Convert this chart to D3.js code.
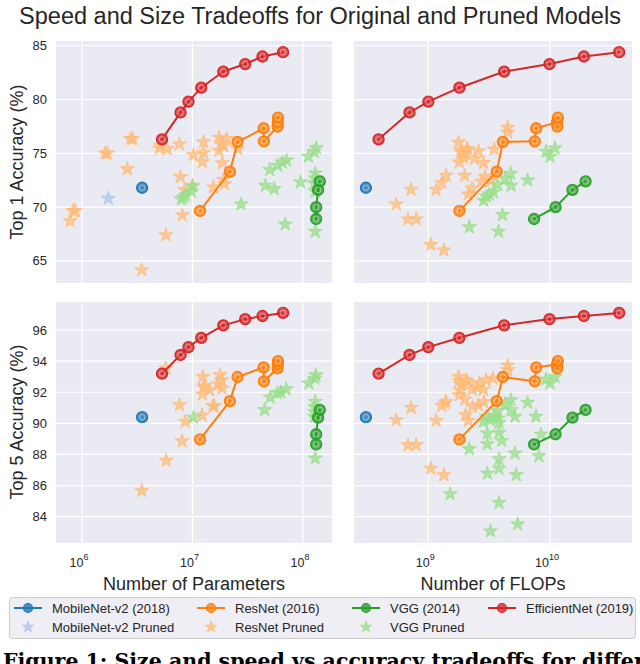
<!DOCTYPE html>
<html>
<head>
<meta charset="utf-8">
<script src="https://cdnjs.cloudflare.com/ajax/libs/d3/7.8.5/d3.min.js"></script>
<style>
  body { margin: 0; background: #fff; }
  text { font-family: "Liberation Sans", Arial, sans-serif; fill: #262626; }
  text.caption { font-family: "DejaVu Serif", serif; font-weight: bold; fill: #000; }
</style>
</head>
<body>
<svg id="chart" width="640" height="664"></svg>
<script>
// original models, one value per model
var effParams = [5.3e6, 7.8e6, 9.2e6, 12e6, 19e6, 30e6, 43e6, 66e6]
var effFlops = [0.39e9, 0.70e9, 1.0e9, 1.8e9, 4.2e9, 9.9e9, 19e9, 37e9]
var effTop1 = [76.3, 78.8, 79.8, 81.1, 82.6, 83.3, 84.0, 84.4]
var effTop5 = [93.2, 94.4, 94.9, 95.5, 96.3, 96.7, 96.9, 97.1]

var resnetParams = [11.7e6, 21.8e6, 25.6e6, 44.0e6, 44.3e6, 59.0e6, 59.2e6, 59.4e6]
var resnetFlops = [1.8e9, 3.65e9, 4.1e9, 7.7e9, 7.5e9, 11.5e9, 11.4e9, 11.6e9]
var resnetTop1 = [69.65, 73.3, 76.06, 77.33, 76.12, 77.49, 77.88, 78.32]
var resnetTop5 = [88.97, 91.43, 92.98, 93.6, 92.7, 93.54, 93.79, 94.0]

var vggParams = [131.5e6, 131.6e6, 137e6, 142e6]
var vggFlops = [7.4e9, 11.1e9, 15.3e9, 19.6e9]
var vggTop1 = [68.9, 70.0, 71.6, 72.4]
var vggTop5 = [88.65, 89.3, 90.37, 90.87]

var mobileParams = [3.5e6]
var mobileFlops = [0.307e9]
var mobileTop1 = [71.8]
var mobileTop5 = [90.4]

// pruned models, [x, accuracy] per panel
var mobilePrunedParamsTop1 = [[1.73e6, 70.8]]

var resnetPrunedParamsTop1 = [[7.8e5, 68.7], [8.3e5, 69.65], [8.7e5, 69.65], [1.62e6, 75.0], [1.70e6, 75.0],
  [2.57e6, 73.55], [2.75e6, 76.35], [2.88e6, 76.35], [3.47e6, 64.15], [5.1e6, 75.7], [5.0e6, 75.45],
  [5.9e6, 75.4], [5.75e6, 67.4], [7.6e6, 75.85], [7.76e6, 72.8], [8.5e6, 71.6], [8.1e6, 69.25],
  [1.0e7, 72.0], [1.02e7, 74.85], [1.26e7, 76.05], [1.26e7, 75.05], [1.23e7, 74.2], [1.55e7, 71.85],
  [1.74e7, 76.45], [2.04e7, 76.35], [1.82e7, 75.95], [1.73e7, 75.25], [1.86e7, 74.1], [1.95e7, 72.15],
  [1.91e7, 72.55], [2.57e7, 75.4], [1.91e7, 75.7]]

var vggPrunedParamsTop1 = [[7.9e6, 70.73], [8.3e6, 70.89], [8.7e6, 71.11], [9.8e6, 71.45], [1.0e7, 71.92],
  [2.75e7, 70.27], [4.57e7, 72.0], [5.5e7, 71.7], [5.0e7, 73.46], [5.9e7, 73.86], [6.5e7, 74.15],
  [7.1e7, 74.35], [6.9e7, 68.4], [9.5e7, 72.32], [1.12e8, 74.7], [1.26e8, 75.16], [1.32e8, 75.5],
  [1.29e8, 73.15], [1.29e8, 72.69], [1.27e8, 72.22], [1.29e8, 71.45], [1.29e8, 67.73]]

var resnetPrunedFlopsTop1 = [[5.46e8, 70.27], [7.2e8, 71.63], [6.8e8, 68.88], [7.96e8, 68.88], [1.05e9, 66.5],
  [1.34e9, 66.0], [1.16e9, 71.6], [1.29e9, 72.28], [1.4e9, 72.93], [1.77e9, 76.02], [2.07e9, 75.4],
  [1.85e9, 75.1], [2.0e9, 75.0], [1.79e9, 74.17], [1.94e9, 74.6], [2.1e9, 75.4], [1.88e9, 75.3],
  [1.95e9, 74.9], [2.39e9, 74.48], [2.59e9, 75.22], [2.85e9, 74.11], [3.48e9, 75.38], [4.49e9, 77.4],
  [4.49e9, 76.96], [1.99e9, 72.93], [2.29e9, 71.76], [2.13e9, 71.2], [2.74e9, 72.38], [2.92e9, 72.84],
  [3.27e9, 72.44]]

var vggPrunedFlopsTop1 = [[2.17e9, 68.14], [3.78e9, 67.73], [4.06e9, 69.28], [2.85e9, 70.61], [3.01e9, 70.98],
  [3.17e9, 71.2], [3.42e9, 71.39], [3.72e9, 72.07], [4.27e9, 72.63], [4.75e9, 73.12], [4.78e9, 72.0],
  [6.55e9, 72.5], [9.27e9, 75.16], [1.0e10, 74.69], [1.1e10, 75.47]]

var resnetPrunedParamsTop5 = [[3.48e6, 85.67], [5.78e6, 87.6], [5.74e6, 93.53], [7.62e6, 91.18], [8.59e6, 90.11],
  [8.05e6, 88.86], [1.22e7, 90.51], [1.24e7, 93.0], [1.26e7, 92.31], [1.28e7, 92.4], [1.23e7, 91.86],
  [1.43e7, 92.14], [1.53e7, 91.11], [1.57e7, 91.11], [1.77e7, 93.11], [1.84e7, 92.78], [1.71e7, 92.51],
  [1.85e7, 92.25]]

var vggPrunedParamsTop5 = [[1.02e7, 90.38], [4.5e7, 90.86], [5.05e7, 91.67], [5.87e7, 91.95], [6.3e7, 92.0],
  [7.05e7, 92.2], [1.13e8, 92.57], [1.28e8, 92.88], [1.31e8, 93.1], [1.29e8, 91.39], [1.28e8, 91.07],
  [1.27e8, 90.75], [1.27e8, 90.43], [1.29e8, 87.75]]

var resnetPrunedFlopsTop5 = [[5.46e8, 90.21], [7.2e8, 91.0], [6.8e8, 88.6], [7.96e8, 88.6], [1.05e9, 87.1],
  [1.34e9, 86.68], [1.16e9, 90.17], [1.29e9, 91.13], [1.4e9, 91.39], [1.77e9, 93.0], [1.79e9, 92.72],
  [1.88e9, 92.46], [1.82e9, 92.14], [2.04e9, 92.78], [2.1e9, 92.68], [1.79e9, 91.82], [2.0e9, 91.54],
  [2.3e9, 92.18], [2.5e9, 92.31], [2.62e9, 92.57], [2.83e9, 92.18], [2.98e9, 92.78], [3.4e9, 92.89],
  [2.03e9, 90.53], [2.13e9, 90.17], [2.31e9, 91.07], [2.58e9, 91.16], [2.86e9, 91.37], [4.49e9, 93.71],
  [4.49e9, 93.43], [1.37e9, 91.28]]

var vggPrunedFlopsTop5 = [[2.17e9, 88.35], [1.51e9, 85.45], [3.06e9, 86.78], [3.81e9, 87.1], [3.81e9, 87.7],
  [5.15e9, 88.07], [5.28e9, 86.68], [3.81e9, 84.9], [3.24e9, 83.07], [5.42e9, 83.52], [3.05e9, 88.67],
  [3.05e9, 89.35], [3.81e9, 89.4], [4.01e9, 88.88], [2.83e9, 90.1], [3.01e9, 90.43], [3.21e9, 90.21],
  [3.48e9, 90.49], [3.76e9, 90.32], [3.81e9, 90.04], [3.72e9, 90.79], [4.27e9, 91.22], [4.78e9, 91.5],
  [4.78e9, 90.86], [5.15e9, 90.43], [6.55e9, 91.33], [7.67e9, 90.43], [8.43e9, 89.29], [8.11e9, 87.9],
  [9.27e9, 92.83], [1.0e10, 92.57], [1.1e10, 93.0]]

// ticks
var paramTicks = [1e6, 1e7, 1e8]
var flopTicks = [1e9, 1e10]
var top1Ticks = [65, 70, 75, 80, 85]
var top5Ticks = [84, 86, 88, 90, 92, 94, 96]

var colors = {mobile: "#1f77b4", resnet: "#ff7f0e", vgg: "#2ca02c", eff: "#d62728"}
var lightColors = {mobile: "#aec7e8", resnet: "#ffbb78", vgg: "#98df8a"}

var svg = d3.select("#chart")

// scales (axis limits)
var xParams = d3.scaleLog().domain([5.82e5, 1.83e8]).range([56, 332])
var xFlops = d3.scaleLog().domain([2.45e8, 4.72e10]).range([354, 632])
var yTop1 = d3.scaleLinear().domain([62.95, 85.44]).range([283, 41])
var yTop5 = d3.scaleLinear().domain([82.31, 97.8]).range([543, 302])

var star = d3.symbol().type(d3.symbolStar).size(62)

// title
svg.append("text")
  .attr("x", 320)
  .attr("y", 24)
  .attr("text-anchor", "middle")
  .attr("font-size", 23.5)
  .text("Speed and Size Tradeoffs for Original and Pruned Models")

function drawPanel(id, x, y, xTicks, yTicks, showX, showY, models, pruned) {
  var x0 = x.range()[0], x1 = x.range()[1]
  var y0 = y.range()[1], y1 = y.range()[0]

  var g = svg.append("g")

  g.append("rect")
    .attr("x", x0).attr("y", y0)
    .attr("width", x1 - x0).attr("height", y1 - y0)
    .attr("fill", "#eaeaf2")

  g.append("clipPath").attr("id", id)
    .append("rect")
    .attr("x", x0).attr("y", y0)
    .attr("width", x1 - x0).attr("height", y1 - y0)

  // grid
  g.selectAll(".gx").data(xTicks).enter().append("line")
    .attr("x1", function(d) { return x(d) }).attr("x2", function(d) { return x(d) })
    .attr("y1", y0).attr("y2", y1)
    .attr("stroke", "#fff").attr("stroke-width", 1.2)
  g.selectAll(".gy").data(yTicks).enter().append("line")
    .attr("y1", function(d) { return y(d) }).attr("y2", function(d) { return y(d) })
    .attr("x1", x0).attr("x2", x1)
    .attr("stroke", "#fff").attr("stroke-width", 1.2)

  if (showY) {
    g.selectAll(".ty").data(yTicks).enter().append("text")
      .attr("x", x0 - 9)
      .attr("y", function(d) { return y(d) })
      .attr("dy", "0.35em")
      .attr("text-anchor", "end")
      .attr("font-size", 13)
      .text(function(d) { return d })
  }
  if (showX) {
    var t = g.selectAll(".tx").data(xTicks).enter().append("text")
      .attr("x", function(d) { return x(d) - 3 })
      .attr("y", y1 + 24)
      .attr("text-anchor", "middle")
      .attr("font-size", 12.5)
    t.append("tspan").text("10")
    t.append("tspan")
      .attr("dy", -7)
      .attr("font-size", 9)
      .text(function(d) { return Math.round(Math.log10(d)) })
  }

  var plot = g.append("g").attr("clip-path", "url(#" + id + ")")

  // pruned stars below the lines
  pruned.forEach(function(p) {
    plot.selectAll(null).data(p.values).enter().append("path")
      .attr("d", star)
      .attr("transform", function(d) { return "translate(" + x(d[0]) + "," + y(d[1]) + ")" })
      .attr("fill", p.color)
      .attr("fill-opacity", 0.75)
      .attr("stroke", p.color)
      .attr("stroke-width", 0.8)
  })

  models.forEach(function(m) {
    var pts = m.xs.map(function(v, i) { return [v, m.ys[i]] })
    pts.sort(function(a, b) { return a[0] - b[0] })

    plot.append("path")
      .datum(pts)
      .attr("fill", "none")
      .attr("stroke", m.color)
      .attr("stroke-width", 2)
      .attr("d", d3.line().x(function(d) { return x(d[0]) }).y(function(d) { return y(d[1]) }))

    var dots = plot.selectAll(null).data(pts).enter().append("g")
      .attr("transform", function(d) { return "translate(" + x(d[0]) + "," + y(d[1]) + ")" })
    dots.append("circle")
      .attr("r", 5.5)
      .attr("fill", m.color)
      .attr("fill-opacity", 0.8)
      .attr("stroke", m.color)
      .attr("stroke-width", 1.3)
    dots.append("circle")
      .attr("r", 2.8)
      .attr("fill", "none")
      .attr("stroke", "#fff")
      .attr("stroke-opacity", 0.55)
      .attr("stroke-width", 0.8)
  })
}

// top left: params vs top1
drawPanel("c1", xParams, yTop1, paramTicks, top1Ticks, false, true,
  [{xs: mobileParams, ys: mobileTop1, color: colors.mobile},
   {xs: resnetParams, ys: resnetTop1, color: colors.resnet},
   {xs: vggParams, ys: vggTop1, color: colors.vgg},
   {xs: effParams, ys: effTop1, color: colors.eff}],
  [{values: mobilePrunedParamsTop1, color: lightColors.mobile},
   {values: resnetPrunedParamsTop1, color: lightColors.resnet},
   {values: vggPrunedParamsTop1, color: lightColors.vgg}])

// top right: flops vs top1
drawPanel("c2", xFlops, yTop1, flopTicks, top1Ticks, false, false,
  [{xs: mobileFlops, ys: mobileTop1, color: colors.mobile},
   {xs: resnetFlops, ys: resnetTop1, color: colors.resnet},
   {xs: vggFlops, ys: vggTop1, color: colors.vgg},
   {xs: effFlops, ys: effTop1, color: colors.eff}],
  [{values: resnetPrunedFlopsTop1, color: lightColors.resnet},
   {values: vggPrunedFlopsTop1, color: lightColors.vgg}])

// bottom left: params vs top5
drawPanel("c3", xParams, yTop5, paramTicks, top5Ticks, true, true,
  [{xs: mobileParams, ys: mobileTop5, color: colors.mobile},
   {xs: resnetParams, ys: resnetTop5, color: colors.resnet},
   {xs: vggParams, ys: vggTop5, color: colors.vgg},
   {xs: effParams, ys: effTop5, color: colors.eff}],
  [{values: resnetPrunedParamsTop5, color: lightColors.resnet},
   {values: vggPrunedParamsTop5, color: lightColors.vgg}])

// bottom right: flops vs top5
drawPanel("c4", xFlops, yTop5, flopTicks, top5Ticks, true, false,
  [{xs: mobileFlops, ys: mobileTop5, color: colors.mobile},
   {xs: resnetFlops, ys: resnetTop5, color: colors.resnet},
   {xs: vggFlops, ys: vggTop5, color: colors.vgg},
   {xs: effFlops, ys: effTop5, color: colors.eff}],
  [{values: resnetPrunedFlopsTop5, color: lightColors.resnet},
   {values: vggPrunedFlopsTop5, color: lightColors.vgg}])

// axis labels
svg.append("text")
  .attr("transform", "translate(23,162) rotate(-90)")
  .attr("text-anchor", "middle")
  .attr("font-size", 18)
  .text("Top 1 Accuracy (%)")
svg.append("text")
  .attr("transform", "translate(23,422) rotate(-90)")
  .attr("text-anchor", "middle")
  .attr("font-size", 18)
  .text("Top 5 Accuracy (%)")
svg.append("text")
  .attr("x", 194).attr("y", 590)
  .attr("text-anchor", "middle")
  .attr("font-size", 18)
  .text("Number of Parameters")
svg.append("text")
  .attr("x", 493).attr("y", 590)
  .attr("text-anchor", "middle")
  .attr("font-size", 18)
  .text("Number of FLOPs")

// legend
var legend = svg.append("g")
legend.append("rect")
  .attr("x", 9.5).attr("y", 597.5)
  .attr("width", 626).attr("height", 41)
  .attr("rx", 3)
  .attr("fill", "#eeeef4")
  .attr("stroke", "#cccccc")

var legendKeys = [
  {name: "MobileNet-v2 (2018)", pruned: "MobileNet-v2 Pruned", key: "mobile", x: 14},
  {name: "ResNet (2016)", pruned: "ResNet Pruned", key: "resnet", x: 197},
  {name: "VGG (2014)", pruned: "VGG Pruned", key: "vgg", x: 352},
  {name: "EfficientNet (2019)", pruned: null, key: "eff", x: 488}
]

var item = legend.selectAll(".item").data(legendKeys).enter().append("g")
  .attr("transform", function(d) { return "translate(" + d.x + ",0)" })

item.append("line")
  .attr("x1", 0).attr("x2", 28)
  .attr("y1", 608).attr("y2", 608)
  .attr("stroke", function(d) { return colors[d.key] })
  .attr("stroke-width", 2)
item.append("circle")
  .attr("cx", 14).attr("cy", 608).attr("r", 4.5)
  .attr("fill", function(d) { return colors[d.key] })
  .attr("fill-opacity", 0.8)
  .attr("stroke", function(d) { return colors[d.key] })
  .attr("stroke-width", 1.2)
item.append("text")
  .attr("x", 38).attr("y", 608)
  .attr("dy", "0.35em")
  .attr("font-size", 13)
  .text(function(d) { return d.name })

var prunedItem = item.filter(function(d) { return d.pruned })
prunedItem.append("path")
  .attr("d", d3.symbol().type(d3.symbolStar).size(40))
  .attr("transform", "translate(14,627)")
  .attr("fill", function(d) { return lightColors[d.key] })
  .attr("fill-opacity", 0.8)
  .attr("stroke", function(d) { return lightColors[d.key] })
  .attr("stroke-width", 0.8)
prunedItem.append("text")
  .attr("x", 38).attr("y", 627)
  .attr("dy", "0.35em")
  .attr("font-size", 13)
  .text(function(d) { return d.pruned })

// caption, cut by the bottom edge as in the source
svg.append("text")
  .attr("class", "caption")
  .attr("x", 3).attr("y", 668)
  .attr("font-size", 20.5)
  .text("Figure 1: Size and speed vs accuracy tradeoffs for different pruning methods")
</script>
</body>
</html>
